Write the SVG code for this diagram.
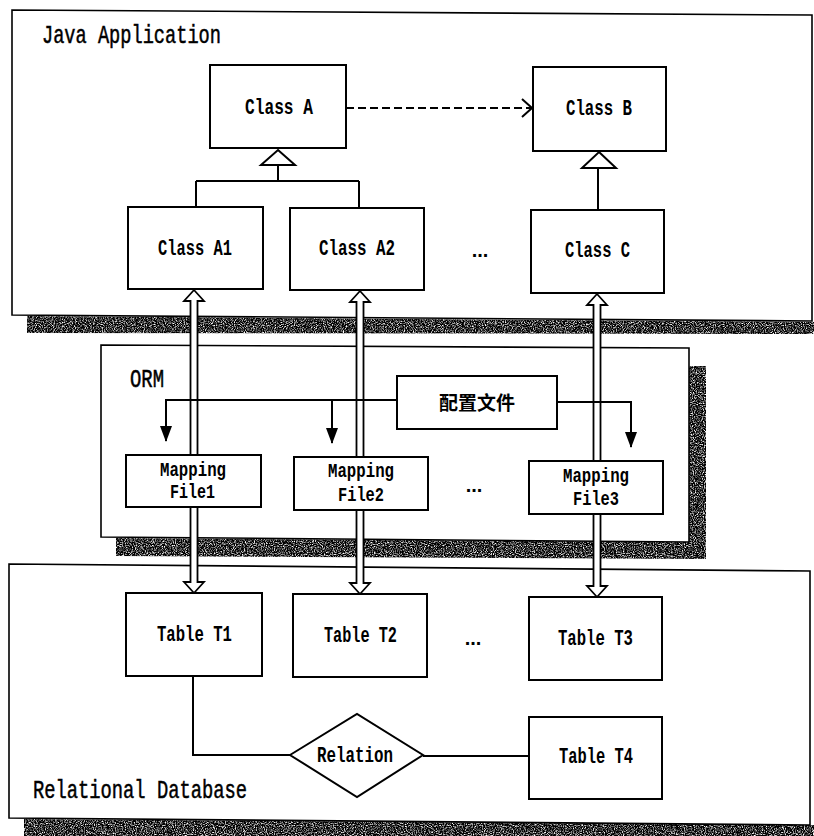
<svg xmlns="http://www.w3.org/2000/svg" width="814" height="836" viewBox="0 0 814 836">
<defs>
<filter id="grain" x="0" y="0" width="100%" height="100%">
<feTurbulence type="fractalNoise" baseFrequency="0.9" numOctaves="2" seed="7" result="t"/>
<feColorMatrix in="t" type="matrix" values="0 0 0 0 0  0 0 0 0 0  0 0 0 0 0  0 0 0 -2.6 2.1" result="a"/>
<feComposite in="a" in2="SourceGraphic" operator="in"/>
</filter>
<marker id="open" viewBox="0 0 12 20" refX="11" refY="10" markerWidth="12" markerHeight="20" markerUnits="userSpaceOnUse" orient="auto">
<path d="M1,1 L11,10 L1,19" fill="none" stroke="#000" stroke-width="2"/>
</marker>
<marker id="solid" viewBox="0 0 16 12" refX="15" refY="6" markerWidth="16" markerHeight="12" markerUnits="userSpaceOnUse" orient="auto">
<path d="M0,0 L16,6 L0,12 Z" fill="#000"/>
</marker>
</defs>
<style>
.frame{fill:#fff;stroke:#000;stroke-width:1.6}
.box{fill:#fff;stroke:#000;stroke-width:2}
.shadow{fill:#000;filter:url(#grain)}
.line{fill:none;stroke:#000;stroke-width:2}
.dash{fill:none;stroke:#000;stroke-width:2;stroke-dasharray:8 4}
.tri{fill:#fff;stroke:#000;stroke-width:2}
.dbl{fill:#fff;stroke:#000;stroke-width:1.8;stroke-linejoin:miter}
.big{font-family:"Liberation Mono",monospace;font-size:25px;fill:#000;stroke:#000;stroke-width:0.5}
.lbl{font-family:"Liberation Mono",monospace;font-size:22px;font-weight:bold;fill:#000;text-anchor:middle}
.map{font-family:"Liberation Mono",monospace;font-size:21px;font-weight:bold;fill:#000;text-anchor:middle}
.cjk{font-family:"Liberation Sans","Noto Sans CJK SC",sans-serif;font-size:19px;font-weight:bold;fill:#000;text-anchor:middle}
.dots{font-family:"Liberation Sans",sans-serif;font-size:20px;font-weight:bold;fill:#000;text-anchor:middle}
</style>
<rect width="814" height="836" fill="#fff"/>

<g id="shadows">
<polygon class="shadow" points="27,316 814,322 814,334 27,333"/>
<polygon class="shadow" points="689,366 706,366 706,559 116,556 116,538 689,542"/>
<polygon class="shadow" points="24,819 810,825 814,825 814,836 24,836"/>
</g>

<g id="java-application">
<polygon class="frame" points="12,10 812,15 812,321 12,315"/>
<text class="big" x="42" y="43" textLength="179" lengthAdjust="spacingAndGlyphs">Java Application</text>
</g>
<g id="orm">
<polygon class="frame" points="101,345 689,348 689,542 101,537"/>
<text class="big" x="130" y="387" textLength="34" lengthAdjust="spacingAndGlyphs">ORM</text>
</g>
<g id="relational-database">
<polygon class="frame" points="9,564 810,571 810,825 9,818"/>
<text class="big" x="33" y="798" textLength="214" lengthAdjust="spacingAndGlyphs">Relational Database</text>
</g>

<g id="connectors">
<line class="dash" x1="346" y1="108" x2="532" y2="108" marker-end="url(#open)"/>
<path class="line" d="M278,165 V181 M196,181 H359 M196,181 V207 M359,181 V207"/>
<polygon class="tri" points="278,150 295,165 261,165"/>
<path class="line" d="M598,168 V210"/>
<polygon class="tri" points="599,152 616,168 582,168"/>
<path class="dbl" d="M194,290 L204,301 L197.5,301 L197.5,582 L204,582 L194,593 L184,582 L190.5,582 L190.5,301 L184,301 Z"/>
<path class="dbl" d="M360,291 L370,302 L363.5,302 L363.5,583 L370,583 L360,594 L350,583 L356.5,583 L356.5,302 L350,302 Z"/>
<path class="dbl" d="M597,294 L607,305 L600.5,305 L600.5,586 L607,586 L597,597 L587,586 L593.5,586 L593.5,305 L587,305 Z"/>
<path class="line" d="M397,400 H166 V441" marker-end="url(#solid)"/>
<path class="line" d="M332,400 V443" marker-end="url(#solid)"/>
<path class="line" d="M557,402 H631 V447" marker-end="url(#solid)"/>
<path class="line" d="M193,676 V755 H290"/>
<path class="line" d="M423,756 H529"/>
</g>

<g id="class-a">
<rect class="box" x="210" y="65" width="136" height="83"/>
<text class="lbl" x="279" y="114" textLength="68" lengthAdjust="spacingAndGlyphs">Class A</text>
</g>
<g id="class-b">
<rect class="box" x="533" y="67" width="133" height="84"/>
<text class="lbl" x="599" y="115" textLength="66" lengthAdjust="spacingAndGlyphs">Class B</text>
</g>
<g id="class-a1">
<rect class="box" x="128" y="207" width="135" height="82"/>
<text class="lbl" x="195" y="255" textLength="74" lengthAdjust="spacingAndGlyphs">Class A1</text>
</g>
<g id="class-a2">
<rect class="box" x="290" y="208" width="134" height="82"/>
<text class="lbl" x="357" y="255" textLength="76" lengthAdjust="spacingAndGlyphs">Class A2</text>
</g>
<g id="class-c">
<rect class="box" x="531" y="210" width="133" height="83"/>
<text class="lbl" x="597.5" y="257" textLength="65" lengthAdjust="spacingAndGlyphs">Class C</text>
</g>
<g id="dots-classes">
<text class="dots" x="480" y="257">...</text>
</g>

<g id="config-file">
<rect class="box" x="397" y="376" width="160" height="53"/>
<text class="cjk" x="477" y="410">配置文件</text>
</g>
<g id="mapping-file1">
<rect class="box" x="126" y="455" width="135" height="52"/>
<text class="map" x="193" y="476" textLength="66" lengthAdjust="spacingAndGlyphs">Mapping</text>
<text class="map" x="192.5" y="498" textLength="45" lengthAdjust="spacingAndGlyphs">File1</text>
</g>
<g id="mapping-file2">
<rect class="box" x="294" y="457" width="134" height="53"/>
<text class="map" x="361" y="477" textLength="66" lengthAdjust="spacingAndGlyphs">Mapping</text>
<text class="map" x="361" y="501" textLength="46" lengthAdjust="spacingAndGlyphs">File2</text>
</g>
<g id="mapping-file3">
<rect class="box" x="529" y="461" width="134" height="53"/>
<text class="map" x="596" y="482" textLength="66" lengthAdjust="spacingAndGlyphs">Mapping</text>
<text class="map" x="596" y="505" textLength="46" lengthAdjust="spacingAndGlyphs">File3</text>
</g>
<g id="dots-orm">
<text class="dots" x="474" y="492">...</text>
</g>

<g id="table-t1">
<rect class="box" x="126" y="593" width="136" height="83"/>
<text class="lbl" x="194.5" y="641" textLength="75" lengthAdjust="spacingAndGlyphs">Table T1</text>
</g>
<g id="table-t2">
<rect class="box" x="293" y="594" width="134" height="83"/>
<text class="lbl" x="360.5" y="642" textLength="73" lengthAdjust="spacingAndGlyphs">Table T2</text>
</g>
<g id="table-t3">
<rect class="box" x="529" y="597" width="133" height="83"/>
<text class="lbl" x="595.5" y="645" textLength="75" lengthAdjust="spacingAndGlyphs">Table T3</text>
</g>
<g id="table-t4">
<rect class="box" x="529" y="717" width="133" height="82"/>
<text class="lbl" x="596" y="763" textLength="74" lengthAdjust="spacingAndGlyphs">Table T4</text>
</g>
<g id="relation">
<polygon class="box" points="290,755 357,714 423,755 357,797"/>
<text class="lbl" x="355" y="762" textLength="76" lengthAdjust="spacingAndGlyphs">Relation</text>
</g>
<g id="dots-tables">
<text class="dots" x="473" y="645">...</text>
</g>
</svg>
